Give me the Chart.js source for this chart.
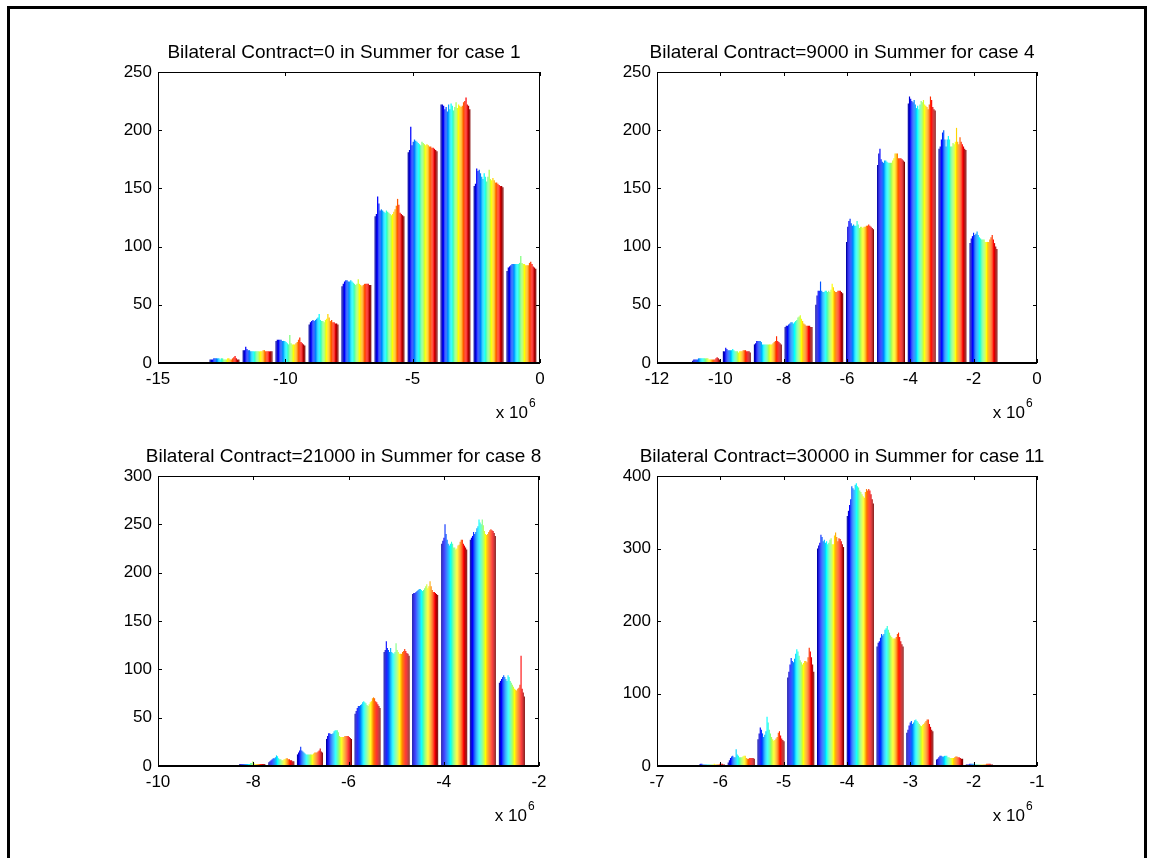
<!DOCTYPE html>
<html lang="en">
<head>
<meta charset="UTF-8">
<title>Bilateral Contract in Summer</title>
<script src="https://cdn.jsdelivr.net/npm/chart.js"></script>
<style>
  body { margin: 0; background: #fff; width: 1149px; height: 858px; overflow: hidden; position: relative; }
  .frame { position: absolute; left: 7px; top: 6px; width: 1134px; height: 900px; border: 3px solid #000; border-bottom: none; }
  canvas { position: absolute; }
</style>
</head>
<body>
<div class="frame"></div>
<canvas id="c1" width="480" height="400" style="left:100px;top:30px"></canvas>
<canvas id="c2" width="478" height="400" style="left:599px;top:30px"></canvas>
<canvas id="c3" width="479" height="399" style="left:100px;top:434px"></canvas>
<canvas id="c4" width="478" height="399" style="left:599px;top:434px"></canvas>
<script>
// bin centres in units of 10^6, then counts per bin (one column per hourly series)
const centers1 = [-12.39, -11.09, -9.80, -8.50, -7.21, -5.91, -4.61, -3.32, -2.02, -0.73];
const counts1 = [
  [3,3,3,4,4,4,4,4,3,4,4,3,3,3,4,4,3,3,4,5,6,4,3,3],
  [11,11,14,12,11,11,10,10,10,10,10,10,10,10,10,10,11,11,10,10,10,10,10,10],
  [19,20,20,20,20,19,19,19,18,17,16,24,17,16,16,16,17,18,20,22,18,17,16,15],
  [33,35,36,37,36,37,38,39,42,37,36,36,35,37,38,42,39,36,37,35,35,34,34,33],
  [66,68,70,71,71,70,70,71,70,69,68,67,68,72,68,67,66,67,68,68,68,68,67,67],
  [126,128,143,137,131,132,131,130,129,131,130,129,128,127,128,130,132,135,141,136,129,128,127,126],
  [181,183,203,187,190,192,191,190,189,188,187,190,189,188,187,188,187,186,186,185,185,184,183,182],
  [222,222,221,218,220,216,222,218,223,221,217,220,224,219,222,221,220,221,224,225,228,222,221,218],
  [152,154,167,165,166,163,160,158,163,160,156,160,166,158,157,159,157,155,155,154,153,152,152,151],
  [79,82,83,84,85,85,85,85,85,85,86,92,86,85,85,84,84,84,86,87,85,83,82,81]
];

const centers2 = [-10.45, -9.48, -8.50, -7.53, -6.56, -5.59, -4.61, -3.64, -2.67, -1.69];
const counts2 = [
  [2,3,3,3,3,4,4,4,4,4,4,4,4,4,3,3,3,3,3,3,4,5,4,3],
  [10,10,13,12,11,11,11,11,12,11,10,10,10,9,10,10,10,11,11,11,10,10,10,9],
  [16,17,19,19,19,19,18,16,16,16,16,16,16,16,16,16,17,18,19,23,19,18,17,16],
  [31,32,32,33,34,35,35,34,35,36,37,39,40,41,38,36,34,33,32,32,32,32,31,31],
  [50,58,62,62,70,62,61,61,62,62,61,62,61,63,68,65,62,61,61,62,62,62,61,60],
  [104,117,122,124,120,118,119,118,118,122,119,116,117,117,116,117,117,118,118,119,118,117,116,115],
  [170,180,184,175,173,172,174,174,173,172,172,172,172,174,176,180,180,180,176,176,176,175,174,173],
  [223,229,227,225,224,226,222,219,221,218,222,225,224,226,222,221,220,218,222,229,226,220,218,217],
  [184,186,192,198,200,192,186,192,195,192,186,186,189,188,190,202,190,188,194,190,188,186,184,183],
  [103,107,109,112,110,111,113,110,108,107,106,106,106,104,104,104,104,106,108,110,106,103,100,98]
];

const centers3 = [-8.02, -7.41, -6.81, -6.20, -5.60, -4.99, -4.39, -3.78, -3.18, -2.57];
const counts3 = [
  [2,2,2,2,2,2,2,2,2,2,3,3,5,3,2,2,2,2,2,2,2,2,2,2],
  [4,5,6,7,8,8,9,11,10,8,7,7,6,6,7,7,8,8,7,7,6,6,5,5],
  [12,14,16,20,16,15,14,13,12,12,12,12,12,12,12,13,14,14,14,15,16,18,15,14],
  [28,31,34,34,33,33,34,36,37,37,37,35,31,30,30,30,30,31,31,31,31,30,29,28],
  [54,57,60,62,62,63,64,66,67,66,65,63,62,64,66,67,70,71,70,67,66,64,62,60],
  [118,120,129,122,120,118,122,118,117,116,118,127,120,118,116,116,116,118,119,121,119,117,116,114],
  [178,179,179,180,181,182,183,183,182,181,182,184,186,188,184,186,191,186,182,180,180,179,178,177],
  [230,233,236,250,240,234,230,228,230,232,230,226,226,224,225,228,229,232,234,234,230,228,226,224],
  [234,236,238,242,240,242,246,248,255,252,250,255,249,243,240,239,240,242,244,245,244,243,241,238],
  [86,88,90,92,94,92,90,88,94,92,88,86,84,82,80,79,78,80,81,84,114,80,76,72]
];

const centers4 = [-6.14, -5.67, -5.20, -4.73, -4.26, -3.79, -3.32, -2.85, -2.38, -1.91];
const counts4 = [
  [1,2,3,3,2,2,2,2,2,2,2,2,2,2,3,2,2,2,2,3,3,3,2,2],
  [5,8,11,13,14,12,12,23,16,14,12,12,12,13,14,14,11,10,10,11,11,11,11,10],
  [37,45,53,50,45,40,43,48,68,60,50,45,40,37,35,36,38,40,46,48,42,38,36,34],
  [122,130,140,149,145,143,148,155,161,158,152,146,143,140,142,145,145,143,150,163,158,150,140,130],
  [300,304,308,319,316,310,312,308,310,306,308,312,314,306,306,318,322,316,310,314,313,310,306,302],
  [345,352,360,368,386,383,381,388,390,386,384,380,378,375,372,370,378,382,380,382,380,375,368,362],
  [165,170,172,177,182,180,182,188,190,193,188,184,180,178,176,176,176,178,182,184,178,172,168,165],
  [46,50,56,60,62,58,60,63,64,62,60,58,56,55,57,58,60,62,64,64,58,54,50,48],
  [9,10,12,14,14,13,13,14,14,14,12,12,11,11,11,11,12,13,13,12,12,11,10,10],
  [2,2,2,3,3,3,3,3,2,2,2,2,2,2,2,2,2,2,3,3,3,3,2,2]
];

const FONT = '"Liberation Sans", Arial, Helvetica, sans-serif';

// MATLAB style jet colormap
function jet(m) {
  const n = Math.ceil(m / 4);
  const u = [];
  for (let i = 1; i <= n; i++) u.push(i / n);
  for (let i = 1; i < n; i++) u.push(1);
  for (let i = n; i >= 1; i--) u.push(i / n);
  const g0 = Math.ceil(n / 2) - (m % 4 === 1 ? 1 : 0);
  const rgb = Array.from({length: m}, () => [0, 0, 0]);
  u.forEach((v, k) => {
    const g = g0 + k + 1, r = g + n, b = g - n;
    if (r >= 1 && r <= m) rgb[r - 1][0] = v;
    if (g >= 1 && g <= m) rgb[g - 1][1] = v;
    if (b >= 1 && b <= m) rgb[b - 1][2] = v;
  });
  return rgb.map(c => `rgb(${c.map(v => Math.round(v * 255)).join(',')})`);
}

const colors = jet(24);

// box with inward ticks on all sides, axes title and the "x 10^6" exponent
const boxPlugin = {
  id: 'matlabBox',
  afterDraw(chart, args, opts) {
    const {ctx, chartArea: a, scales: {x, y}} = chart;
    ctx.save();
    ctx.strokeStyle = '#000';
    ctx.lineWidth = 1;
    ctx.strokeRect(a.left + 0.5, a.top + 0.5, a.width - 1, a.height - 1);
    ctx.beginPath();
    x.ticks.forEach(t => {
      const px = Math.round(x.getPixelForValue(t.value)) + 0.5;
      ctx.moveTo(px, a.bottom); ctx.lineTo(px, a.bottom - 4);
      ctx.moveTo(px, a.top); ctx.lineTo(px, a.top + 4);
    });
    y.ticks.forEach(t => {
      const py = Math.round(y.getPixelForValue(t.value)) + 0.5;
      ctx.moveTo(a.left, py); ctx.lineTo(a.left + 4, py);
      ctx.moveTo(a.right, py); ctx.lineTo(a.right - 4, py);
    });
    ctx.stroke();
    ctx.lineWidth = 2;
    ctx.beginPath();
    ctx.moveTo(a.left, a.bottom); ctx.lineTo(a.right, a.bottom);
    ctx.stroke();

    ctx.fillStyle = '#000';
    ctx.textBaseline = 'middle';
    ctx.font = '19px ' + FONT;
    ctx.textAlign = 'center';
    ctx.fillText(opts.text, (a.left + a.right) / 2 - 5, a.top - 19);

    ctx.font = '17px ' + FONT;
    ctx.textAlign = 'right';
    ctx.fillText('x 10', a.right - 12, a.bottom + 50);
    ctx.font = '12px ' + FONT;
    ctx.textAlign = 'left';
    ctx.fillText('6', a.right - 11, a.bottom + 41);
    ctx.restore();
  }
};

function makeChart(id, title, centers, counts, xMin, xMax, xStep, yMax, yStep) {
  const datasets = colors.map((c, s) => ({
    data: centers.map((cx, i) => ({x: cx, y: counts[i][s]})),
    backgroundColor: c,
    borderWidth: 0,
    categoryPercentage: 0.91,
    barPercentage: 1
  }));
  const tickFont = {family: FONT, size: 17};
  return new Chart(document.getElementById(id), {
    type: 'bar',
    data: {datasets},
    plugins: [boxPlugin],
    options: {
      responsive: false,
      animation: false,
      devicePixelRatio: 1,
      layout: {padding: {left: 0, right: 40, top: 42, bottom: 0}},
      plugins: {
        legend: {display: false},
        tooltip: {enabled: false},
        title: {display: false},
        matlabBox: {text: title}
      },
      scales: {
        x: {
          type: 'linear',
          min: xMin,
          max: xMax,
          offset: false,
          grid: {display: false, drawTicks: false, offset: false},
          border: {display: false},
          ticks: {stepSize: xStep, color: '#000', font: tickFont, padding: 6, maxRotation: 0, autoSkip: false, callback: v => String(v)},
          afterFit: s => { s.height = 67; }
        },
        y: {
          min: 0,
          max: yMax,
          grid: {display: false, drawTicks: false},
          border: {display: false},
          ticks: {stepSize: yStep, color: '#000', font: tickFont, padding: 6, callback: v => String(v)},
          afterFit: s => { s.width = 58; }
        }
      }
    }
  });
}

makeChart('c1', 'Bilateral Contract=0 in Summer for case 1', centers1, counts1, -15, 0, 5, 250, 50);
makeChart('c2', 'Bilateral Contract=9000 in Summer for case 4', centers2, counts2, -12, 0, 2, 250, 50);
makeChart('c3', 'Bilateral Contract=21000 in Summer for case 8', centers3, counts3, -10, -2, 2, 300, 50);
makeChart('c4', 'Bilateral Contract=30000 in Summer for case 11', centers4, counts4, -7, -1, 1, 400, 100);
</script>
</body>
</html>
